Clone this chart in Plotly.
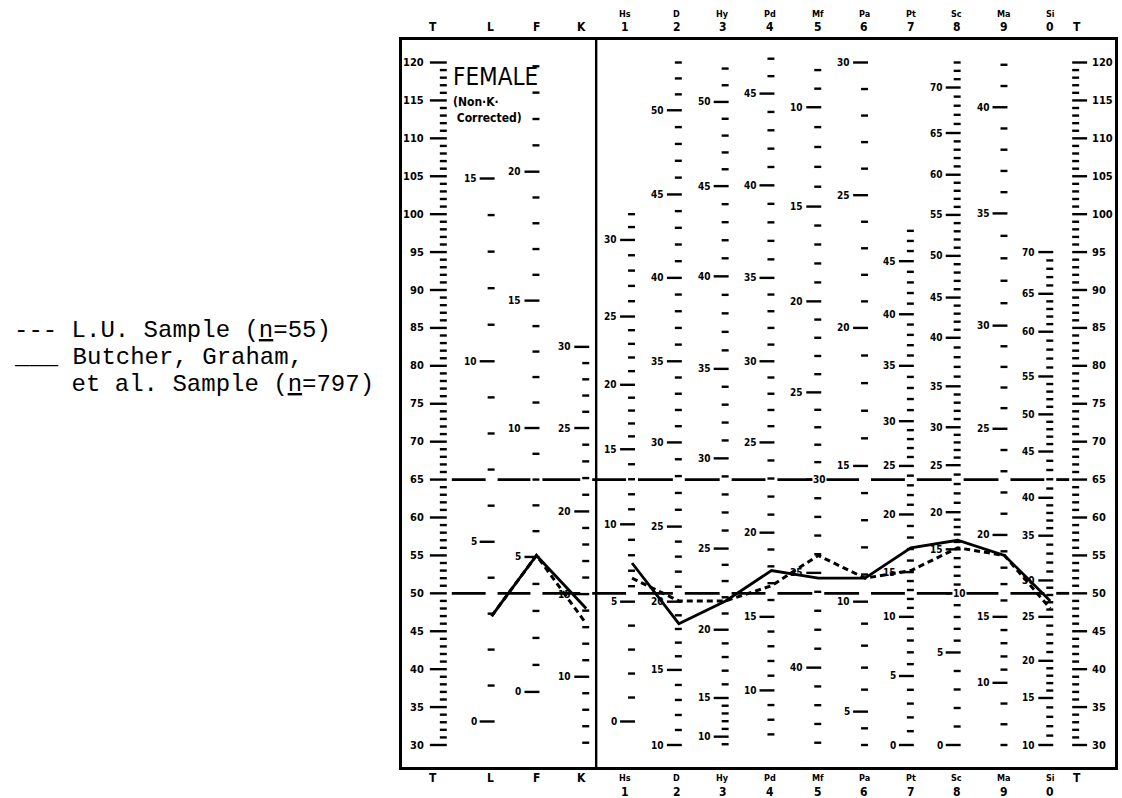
import numpy as np
import plotly.graph_objects as go

# ---------------- data ----------------
scale_names = ["L", "F", "K", "Hs", "D", "Hy", "Pd", "Mf", "Pa", "Pt", "Sc", "Ma", "Si"]
scale_digits = ["", "", "", "1", "2", "3", "4", "5", "6", "7", "8", "9", "0"]

lu_sample_t = [47, 55, 46, 52, 49, 49, 51, 55, 52, 53, 56, 55, 48]
butcher_sample_t = [47, 55, 48, 54, 46, 49, 53, 52, 52, 56, 57, 55, 49]

t_score_ticks = list(range(30, 121))

# raw-score scale of each column: raw score -> T-score position
L_raw = [0, 5, 10, 15]
L_t = [33.1, 56.8, 80.6, 104.7]
F_raw = [0, 5, 10, 15, 20, 24]
F_t = [37.0, 54.8, 71.8, 88.6, 105.6, 119.5]
K_raw = [6, 10, 20, 25, 30]
K_t = [30.3, 39.0, 60.8, 71.8, 82.5]
Hs_raw = [0, 5, 10, 15, 20, 25, 30, 32]
Hs_t = [33.1, 48.9, 59.1, 69.0, 77.5, 86.5, 96.6, 100.0]
D_raw = [10, 15, 20, 25, 30, 35, 40, 45, 50, 53]
D_t = [30.0, 39.9, 48.9, 58.8, 69.9, 80.6, 91.6, 102.6, 113.7, 120.0]
Hy_raw = [9, 10, 15, 20, 25, 30, 35, 40, 45, 50, 52]
Hy_t = [30.1, 31.1, 36.2, 45.2, 55.9, 67.8, 79.6, 91.8, 103.7, 114.8, 119.2]
Pd_raw = [7, 10, 15, 20, 25, 30, 35, 40, 45, 47]
Pd_t = [31.4, 37.2, 46.9, 58.0, 69.9, 80.6, 91.6, 103.8, 115.9, 120.5]
Mf_raw = [8, 10, 15, 20, 25, 30, 35, 40, 44]
Mf_t = [119.0, 114.1, 101.0, 88.5, 76.5, 65.0, 52.7, 40.2, 30.3]
Pa_raw = [3, 5, 10, 15, 20, 25, 30]
Pa_t = [30.0, 34.4, 48.9, 66.8, 85.0, 102.5, 120.0]
Pt_raw = [0, 5, 10, 15, 20, 25, 30, 35, 40, 45, 48]
Pt_t = [30.0, 39.1, 46.9, 52.8, 60.4, 66.8, 72.7, 80.0, 86.8, 93.8, 97.8]
Sc_raw = [0, 5, 10, 15, 20, 25, 30, 35, 40, 45, 50, 55, 60, 65, 70, 73]
Sc_t = [30.0, 42.2, 50.0, 55.8, 60.7, 66.9, 71.9, 77.3, 83.7, 89.0, 94.5, 99.9, 105.2, 110.7, 116.7, 120.0]
Ma_raw = [7, 10, 15, 20, 25, 30, 35, 40, 42]
Ma_t = [30.0, 38.2, 46.9, 57.7, 71.7, 85.3, 100.1, 114.1, 119.7]
Si_raw = [10, 15, 20, 25, 30, 35, 40, 45, 50, 55, 60, 65, 70]
Si_t = [30.0, 36.2, 41.1, 46.9, 51.7, 57.6, 62.6, 68.7, 73.6, 78.6, 84.5, 89.5, 95.0]

raw_scales = [(L_raw, L_t), (F_raw, F_t), (K_raw, K_t), (Hs_raw, Hs_t), (D_raw, D_t),
              (Hy_raw, Hy_t), (Pd_raw, Pd_t), (Mf_raw, Mf_t), (Pa_raw, Pa_t),
              (Pt_raw, Pt_t), (Sc_raw, Sc_t), (Ma_raw, Ma_t), (Si_raw, Si_t)]

reference_lines_t = [50, 65]

# ---------------- layout positions (x axis in page pixels) ----------------
W, H = 1122, 798
X0, X1 = 402, 1118          # plot box left/right
TOP, BOT = 40, 767          # plot box top/bottom
PX_PER_T = 682.5 / 90.0
Y_TOP = 120 + (62.5 - TOP) / PX_PER_T
Y_BOT = 30 - (BOT - 745) / PX_PER_T

col_x = [492, 537, 587, 633, 680, 727, 773, 820, 867, 913, 960, 1007, 1053]
header_x = [491, 537, 582, 626, 678, 724, 772, 820, 866, 913, 959, 1007, 1053]
t_left_x = 447
t_right_x = 1075
divider_x = 597

BOLD_FONT = "Liberation Sans Narrow, DejaVu Sans Condensed, Liberation Sans, Arial"
MONO_FONT = "Liberation Mono, Courier New, monospace"

fig = go.Figure()
annotations = []

# ---- T-score scales left and right ----
tx, ty = [], []
for t in t_score_ticks:
    major = t % 5 == 0
    tx += [t_left_x - (17 if major else 7), t_left_x, None]
    ty += [t, t, None]
    tx += [t_right_x, t_right_x + (15 if major else 7), None]
    ty += [t, t, None]
    if major:
        annotations.append(dict(x=t_left_x - 21, y=t, text="<b>%d</b>" % t, xanchor="right",
                                yanchor="middle", showarrow=False,
                                font=dict(family=BOLD_FONT, size=11, color="black")))
        annotations.append(dict(x=t_right_x + 18, y=t, text="<b>%d</b>" % t, xanchor="left",
                                yanchor="middle", showarrow=False,
                                font=dict(family=BOLD_FONT, size=11, color="black")))
fig.add_trace(go.Scatter(x=tx, y=ty, mode="lines", line=dict(color="black", width=2.4),
                         hoverinfo="skip", showlegend=False))

# ---- raw score scales ----
rx, ry = [], []
for i, ((raws, ts), x) in enumerate(zip(raw_scales, col_x)):
    for r in range(raws[0], raws[-1] + 1):
        t = float(np.interp(r, raws, ts))
        major = r % 5 == 0
        rx += [x - (12 if major else 4), x + 3, None]
        ry += [t, t, None]
        if major:
            on_line = i >= 3 and min(abs(t - v) for v in reference_lines_t) < 0.3
            ann = dict(x=x - 14, y=t, text="<b>%d</b>" % r, xanchor="right", yanchor="middle",
                       showarrow=False, borderpad=0,
                       font=dict(family=BOLD_FONT, size=10, color="black"))
            if on_line:
                ann.update(bgcolor="white", x=x + 9, xanchor="right")
            annotations.append(ann)
fig.add_trace(go.Scatter(x=rx, y=ry, mode="lines", line=dict(color="black", width=2.4),
                         hoverinfo="skip", showlegend=False))

# ---- reference lines at T = 50 and 65 (broken at each scale column) ----
stops = [t_left_x] + col_x + [t_right_x]
hx, hy = [], []
for v in reference_lines_t:
    for a, b in zip(stops[:-1], stops[1:]):
        x_start = a + 5 if a == t_left_x else a + 6
        x_end = b - 3 if b == t_right_x else b - 6
        hx += [x_start, x_end, None]
        hy += [v, v, None]
fig.add_trace(go.Scatter(x=hx, y=hy, mode="lines", line=dict(color="black", width=2.8),
                         hoverinfo="skip", showlegend=False))

# ---- profiles ----
def split_profile(vals):
    xs = col_x[:3] + [None] + col_x[3:]
    ys = vals[:3] + [None] + vals[3:]
    return xs, ys

px_, py_ = split_profile(butcher_sample_t)
fig.add_trace(go.Scatter(x=px_, y=py_, mode="lines", connectgaps=False,
                         line=dict(color="black", width=2.8),
                         name="Butcher, Graham, et al. Sample (n=797)", showlegend=False))
px_, py_ = split_profile(lu_sample_t)
fig.add_trace(go.Scatter(x=px_, y=py_, mode="lines", connectgaps=False,
                         line=dict(color="black", width=3, dash="6px,4px"),
                         name="L.U. Sample (n=55)", showlegend=False))

# ---- column headers top and bottom ----
def paper_ann(x, text, yshift, size, top=True):
    return dict(x=x, xref="x", y=1 if top else 0, yref="paper", yshift=yshift,
                yanchor="middle", xanchor="center", text=text, showarrow=False,
                font=dict(family=BOLD_FONT, size=size, color="black"))

for x in [433, 1080]:
    annotations.append(paper_ann(x, "<b>T</b>", 13, 12, True))
    annotations.append(paper_ann(x, "<b>T</b>", -11, 12, False))
for name, digit, x in zip(scale_names, scale_digits, header_x):
    if digit == "":
        annotations.append(paper_ann(x, "<b>%s</b>" % name, 13, 12, True))
        annotations.append(paper_ann(x, "<b>%s</b>" % name, -11, 12, False))
    else:
        annotations.append(paper_ann(x, "<b>%s</b>" % name, 26, 9, True))
        annotations.append(paper_ann(x, "<b>%s</b>" % digit, 13, 12, True))
        annotations.append(paper_ann(x, "<b>%s</b>" % name, -11, 9, False))
        annotations.append(paper_ann(x, "<b>%s</b>" % digit, -25, 12, False))

# ---- FEMALE caption ----
annotations.append(dict(x=451, y=118.15, text="FEMALE", xanchor="left", yanchor="middle",
                        showarrow=False, font=dict(family=BOLD_FONT, size=24, color="black")))
annotations.append(dict(x=451, y=113.8, text="<b>(Non·K·</b><br><b>&nbsp;Corrected)</b>",
                        xanchor="left", yanchor="middle", align="left",
                        showarrow=False, font=dict(family=BOLD_FONT, size=12, color="black")))

# ---- key on the left ----
def key_line(text, ypx):
    return dict(x=(10 - X0) / (X1 - X0), xref="paper", y=1 - (ypx - TOP) / (BOT - TOP),
                yref="paper", xanchor="left", yanchor="middle", text=text, showarrow=False,
                font=dict(family=MONO_FONT, size=24, color="black"))

annotations.append(key_line("--- L.U. Sample (<u>n</u>=55)", 330))
annotations.append(key_line("___ Butcher, Graham,", 357))
annotations.append(key_line("    et al. Sample (<u>n</u>=797)", 384))

fig.update_layout(
    width=W, height=H,
    margin=dict(l=X0, r=W - X1, t=TOP, b=H - BOT, pad=0),
    paper_bgcolor="white", plot_bgcolor="white",
    xaxis=dict(range=[X0, X1], showgrid=False, zeroline=False, showticklabels=False,
               ticks="", showline=True, mirror=True, linecolor="black", linewidth=3),
    yaxis=dict(range=[Y_BOT, Y_TOP], showgrid=False, zeroline=False, showticklabels=False,
               ticks="", showline=True, mirror=True, linecolor="black", linewidth=3),
    shapes=[dict(type="line", xref="x", yref="paper", x0=divider_x, x1=divider_x, y0=0, y1=1,
                 line=dict(color="black", width=2.4))],
    annotations=annotations,
    showlegend=False,
)

fig.write_html("out.html")
